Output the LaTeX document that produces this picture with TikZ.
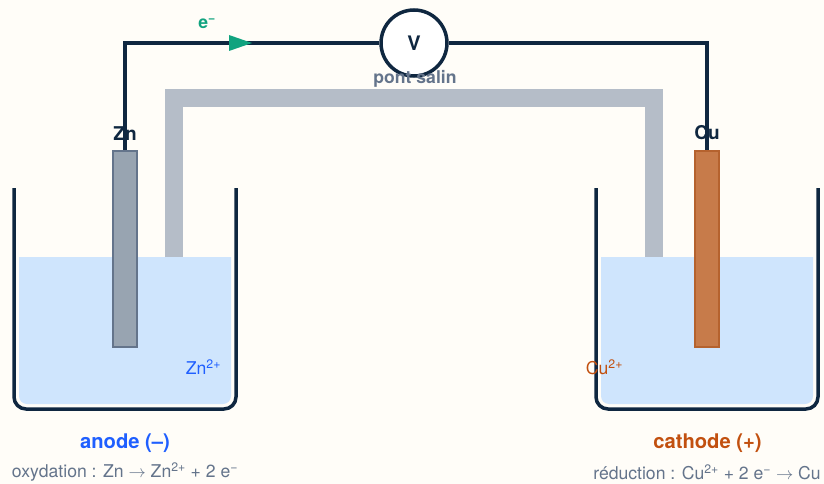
\documentclass[tikz,border=0pt]{standalone}
\usepackage{fontspec}
\usepackage{amsmath}
\usepackage{xcolor}
\setmainfont{TeX Gyre Heros}
\definecolor{paper}{HTML}{FFFDF8}
\definecolor{ink}{HTML}{0F2740}
\definecolor{water}{HTML}{CFE5FD}
\definecolor{bridge}{HTML}{B5BDC8}
\definecolor{slate}{HTML}{64748B}
\definecolor{zinc}{HTML}{98A4B1}
\definecolor{copper}{HTML}{C77B4A}
\definecolor{copperdark}{HTML}{B5622E}
\definecolor{anodeblue}{HTML}{1F5FFF}
\definecolor{cathodered}{HTML}{C2500F}
\definecolor{electron}{HTML}{10A37F}
\tikzset{
	wire/.style={draw=ink,line width=3.5pt},
	beaker/.style={draw=ink,line width=3.5pt,rounded corners=12pt},
	electrode/.style={draw,line width=2pt,minimum width=24pt,minimum height=196pt,inner sep=0pt},
	metal/.style={font=\fontsize{19}{22}\selectfont\bfseries,text=ink},
	ion/.style={font=\fontsize{17.6}{20}\selectfont},
	pole/.style={font=\fontsize{20.2}{24}\selectfont\bfseries},
	halfeq/.style={font=\fontsize{17.6}{20}\selectfont,text=slate}
}
\begin{document}
\begin{tikzpicture}[x=1pt,y=-1pt]
	% Background fixes the page size
	\fill[paper] (0,0) rectangle (824,484);
	\useasboundingbox (0,0) rectangle (824,484);

	% Liquid in both beakers
	\fill[water] (19,257) -- (231,257) -- (231,396) arc[start angle=0,end angle=90,radius=8] -- (27,404) arc[start angle=90,end angle=180,radius=8] -- cycle;
	\fill[water] (601,257) -- (813,257) -- (813,396) arc[start angle=0,end angle=90,radius=8] -- (609,404) arc[start angle=90,end angle=180,radius=8] -- cycle;

	% Salt bridge
	\draw[bridge,line width=18pt] (174,257) -- (174,98) -- (654,98) -- (654,257);

	% Beaker walls
	\draw[beaker] (14,188) -- (14,409) -- (236,409) -- (236,188);
	\draw[beaker] (596,188) -- (596,409) -- (818,409) -- (818,188);

	% Electrodes
	\node[electrode,draw=slate,fill=zinc] (zn) at (125,249) {};
	\node[electrode,draw=copperdark,fill=copper] (cu) at (707,249) {};

	% Voltmeter and the wires to the electrodes
	\node[circle,draw=ink,line width=3.5pt,fill=white,minimum size=66pt,inner sep=0pt,font=\fontsize{20}{24}\selectfont\bfseries,text=ink] (volt) at (414,43) {V};
	\draw[wire] (volt.west) -| (zn.north);
	\draw[wire] (volt.east) -| (cu.north);

	% Electron direction
	\fill[electron] (229,35) -- (252,43) -- (229,51) -- cycle;
	\node[font=\fontsize{17.6}{20}\selectfont\bfseries,text=electron] (elec) at (207,24) {e\textsuperscript{−}};

	% Labels
	\node[font=\fontsize{17.6}{20}\selectfont\bfseries,text=slate] (salt) at (415,79) {pont salin};
	\node[metal] (znlabel) at (125,134) {Zn};
	\node[metal] (culabel) at (707,133) {Cu};
	\node[ion,text=anodeblue] (znion) at (203.5,367) {Zn\textsuperscript{2+}};
	\node[ion,text=cathodered] (cuion) at (604.5,367) {Cu\textsuperscript{2+}};
	\node[pole,text=anodeblue] (anode) at (125,443) {anode (–)};
	\node[pole,text=cathodered] (cathode) at (707.5,443) {cathode (+)};
	\node[halfeq] (oxy) at (125,472) {oxydation : Zn $\rightarrow$ Zn\textsuperscript{2+} + 2 e\textsuperscript{−}};
	\node[halfeq] (red) at (707,472) {réduction : Cu\textsuperscript{2+} + 2 e\textsuperscript{−} $\rightarrow$ Cu};
\end{tikzpicture}
\end{document}
